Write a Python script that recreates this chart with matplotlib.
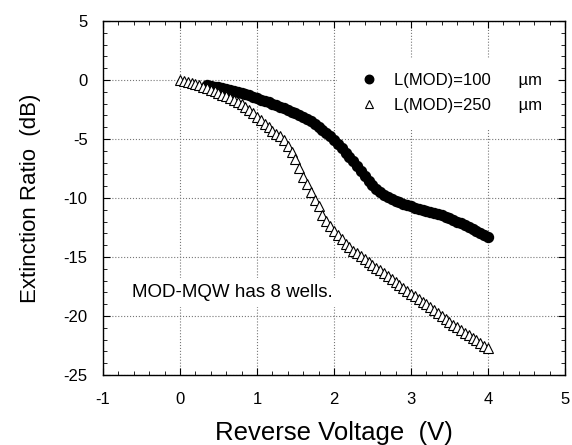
import matplotlib
matplotlib.use('Agg')
import matplotlib.pyplot as plt
from matplotlib.ticker import MultipleLocator

plt.rcParams['font.family'] = ['Liberation Sans', 'DejaVu Sans']
plt.rcParams['axes.unicode_minus'] = False

# L(MOD)=250 um, open triangles
v_250 = [0.00, 0.05, 0.10, 0.15, 0.20, 0.25, 0.30, 0.35, 0.40, 0.45,
         0.50, 0.55, 0.60, 0.65, 0.70, 0.75, 0.80, 0.85, 0.90, 0.95,
         1.00, 1.05, 1.10, 1.15, 1.20, 1.25, 1.30, 1.35, 1.40, 1.45,
         1.50, 1.55, 1.60, 1.65, 1.70, 1.75, 1.80, 1.85, 1.90, 1.95,
         2.00, 2.05, 2.10, 2.15, 2.20, 2.25, 2.30, 2.35, 2.40, 2.45,
         2.50, 2.55, 2.60, 2.65, 2.70, 2.75, 2.80, 2.85, 2.90, 2.95,
         3.00, 3.05, 3.10, 3.15, 3.20, 3.25, 3.30, 3.35, 3.40, 3.45,
         3.50, 3.55, 3.60, 3.65, 3.70, 3.75, 3.80, 3.85, 3.90, 3.95, 4.00]
er_250 = [0.00, -0.08, -0.17, -0.26, -0.36, -0.46, -0.56, -0.68, -0.81, -0.95,
          -1.09, -1.23, -1.38, -1.54, -1.71, -1.89, -2.07, -2.30, -2.55, -2.82,
          -3.12, -3.42, -3.72, -4.02, -4.30, -4.55, -4.75, -5.10, -5.58, -6.12,
          -6.70, -7.45, -8.20, -8.80, -9.50, -10.15, -10.70, -11.40, -11.95, -12.40,
          -12.80, -13.15, -13.50, -13.90, -14.18, -14.45, -14.70, -14.95, -15.18, -15.40,
          -15.65, -15.90, -16.12, -16.35, -16.60, -16.85, -17.10, -17.35, -17.60, -17.85,
          -18.10, -18.33, -18.55, -18.78, -19.02, -19.27, -19.52, -19.77, -20.02, -20.27,
          -20.50, -20.73, -20.95, -21.18, -21.40, -21.62, -21.85, -22.07, -22.30, -22.52, -22.75]

# L(MOD)=100 um, filled circles
v_100 = [0.35, 0.40, 0.45,
         0.50, 0.55, 0.60, 0.65, 0.70, 0.75, 0.80, 0.85, 0.90, 0.95,
         1.00, 1.05, 1.10, 1.15, 1.20, 1.25, 1.30, 1.35, 1.40, 1.45,
         1.50, 1.55, 1.60, 1.65, 1.70, 1.75, 1.80, 1.85, 1.90, 1.95,
         2.00, 2.05, 2.10, 2.15, 2.20, 2.25, 2.30, 2.35, 2.40, 2.45,
         2.50, 2.55, 2.60, 2.65, 2.70, 2.75, 2.80, 2.85, 2.90, 2.95,
         3.00, 3.05, 3.10, 3.15, 3.20, 3.25, 3.30, 3.35, 3.40, 3.45,
         3.50, 3.55, 3.60, 3.65, 3.70, 3.75, 3.80, 3.85, 3.90, 3.95, 4.00]
er_100 = [-0.45, -0.51, -0.57,
          -0.63, -0.69, -0.76, -0.83, -0.91, -0.99, -1.08, -1.18, -1.30, -1.42,
          -1.54, -1.66, -1.78, -1.90, -2.02, -2.14, -2.27, -2.40, -2.53, -2.67,
          -2.81, -2.96, -3.12, -3.30, -3.50, -3.72, -3.95, -4.20, -4.46, -4.75,
          -5.10, -5.45, -5.80, -6.15, -6.52, -6.90, -7.28, -7.68, -8.10, -8.55,
          -8.92, -9.25, -9.52, -9.75, -9.95, -10.12, -10.26, -10.38, -10.50, -10.62,
          -10.72, -10.82, -10.90, -10.98, -11.06, -11.15, -11.25, -11.36, -11.47, -11.60,
          -11.72, -11.85, -12.00, -12.15, -12.30, -12.45, -12.60, -12.77, -12.95, -13.13, -13.30]

fig = plt.figure(figsize=(5.72, 4.45), dpi=100)
ax = fig.add_axes([0.18, 0.1573, 0.8077, 0.7955])

ax.plot(v_100, er_100, 'o', color='black', markersize=7.2, zorder=3,
        label='L(MOD)=100      \u00b5m')
ax.plot(v_250, er_250, '^', markerfacecolor='white', markeredgecolor='black',
        markersize=7, markeredgewidth=0.8, zorder=4,
        label='L(MOD)=250      \u00b5m')

ax.set_xlim(-1, 5)
ax.set_ylim(-25, 5)
ax.xaxis.set_major_locator(MultipleLocator(1))
ax.xaxis.set_minor_locator(MultipleLocator(0.2))
ax.yaxis.set_major_locator(MultipleLocator(5))
ax.yaxis.set_minor_locator(MultipleLocator(1))
ax.tick_params(which='both', direction='in', top=True, right=True, labelsize=12)
ax.tick_params(axis='x', which='major', pad=12)
ax.tick_params(axis='y', which='major', pad=11)
ax.tick_params(which='major', length=5, width=0.8)
ax.tick_params(which='minor', length=3, width=0.6)
ax.grid(True, which='major', linestyle=':', color='#777777', linewidth=0.8)

ax.set_xlabel('Reverse Voltage  (V)', fontsize=18.5, labelpad=10)
ax.set_ylabel('Extinction Ratio  (dB)', fontsize=16, labelpad=16)

leg = ax.legend(loc='upper right', bbox_to_anchor=(0.99, 0.906), frameon=True,
                fontsize=12, handletextpad=0.5, labelspacing=0.6,
                borderpad=0.6, markerscale=0.85)
leg.get_frame().set_edgecolor('white')
leg.get_frame().set_facecolor('white')
leg.get_frame().set_alpha(1)
leg.get_frame().set_boxstyle('square')

ax.text(-0.62, -18.0, 'MOD-MQW has 8 wells.', fontsize=13.5, va='center',
        bbox=dict(facecolor='white', edgecolor='none', pad=4), zorder=2)

for s in ax.spines.values():
    s.set_linewidth(1.0)

fig.savefig('out.png', dpi=100)
